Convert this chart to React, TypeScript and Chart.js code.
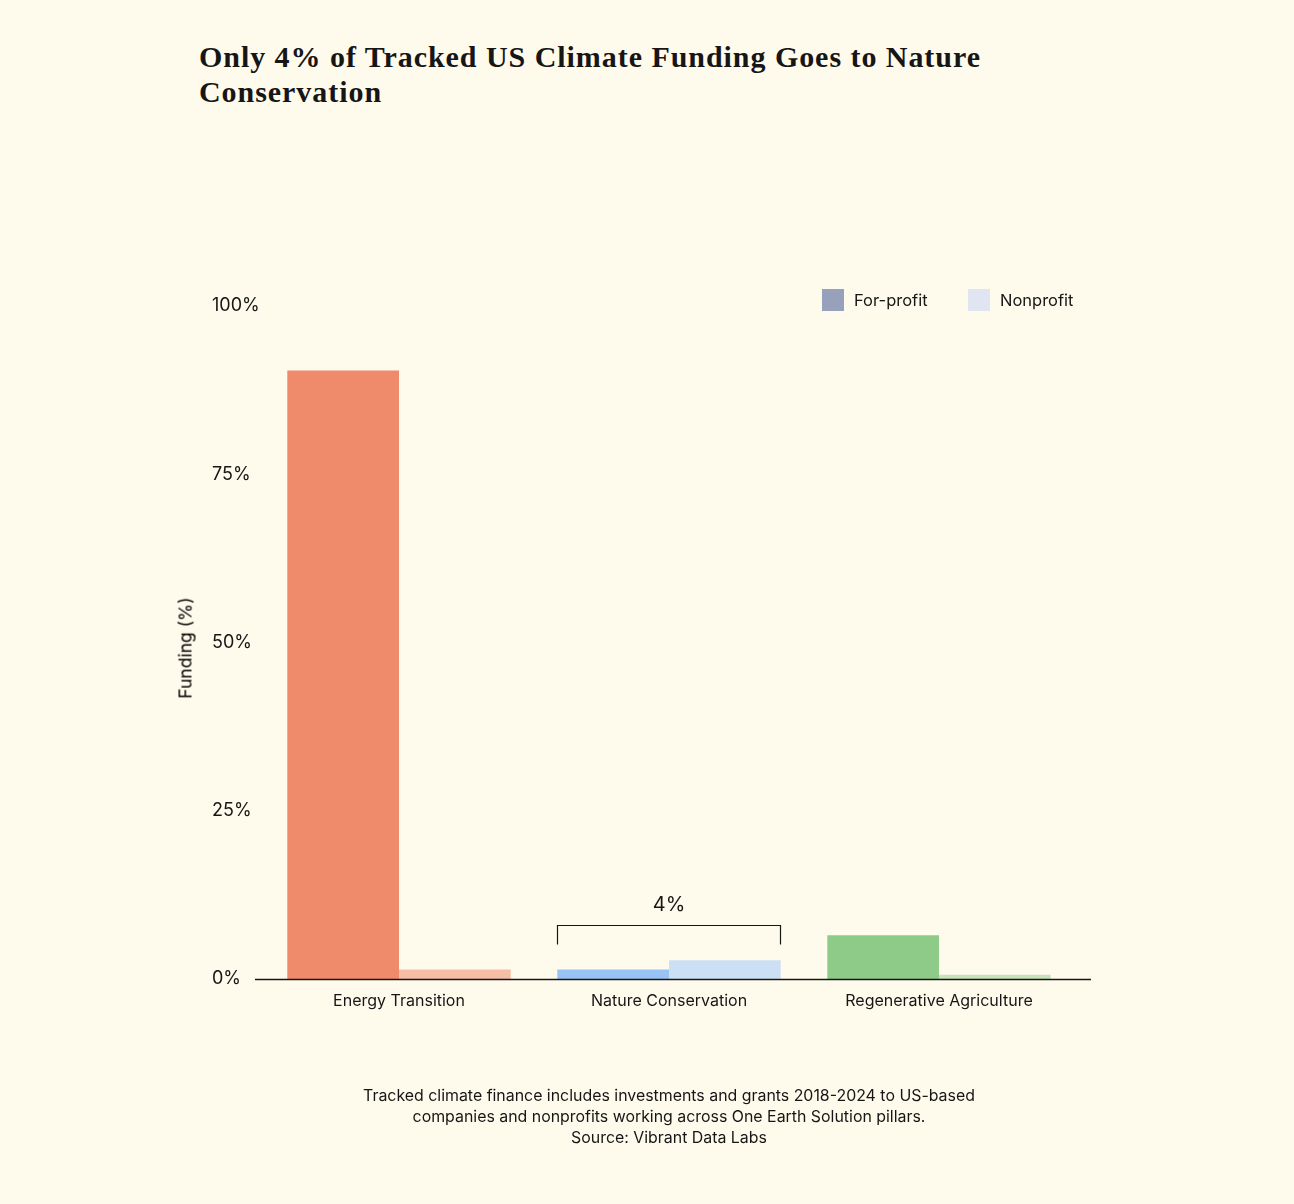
import React, { useEffect, useRef } from "react";
import { Chart, registerables } from "chart.js";

Chart.register(...registerables);

// ---- data ----
const categories = ["Energy Transition", "Nature Conservation", "Regenerative Agriculture"];
const seriesNames = ["For-profit", "Nonprofit"];
const forProfitValues = [90.4, 1.4, 6.5];
const nonprofitValues = [1.4, 2.8, 0.65];
const forProfitColors = ["#EF8A6A", "#99C3F5", "#8FCB88"];
const nonprofitColors = ["#F6BDA7", "#CCE0F5", "#C7E3BA"];
const legendColors = ["#98A1BB", "#E1E4F1"];
const yTickValues = [0, 25, 50, 75, 100];
const bracketCategoryIndex = 1;
const bracketLabel = "4%";

const TITLE_LINES = ["Only 4% of Tracked US Climate Funding Goes to Nature", "Conservation"];
const FOOTER_LINES = [
  "Tracked climate finance includes investments and grants 2018-2024 to US-based",
  "companies and nonprofits working across One Earth Solution pillars.",
  "Source: Vibrant Data Labs",
];

const BG = "#FFFBEC";
const INK = "#161616";
const SANS = "Inter, 'Noto Sans', sans-serif";

const overlayPlugin = {
  id: "overlay",
  afterDatasetsDraw(chart: any) {
    const { ctx, chartArea, scales } = chart;
    const y = scales.y;
    ctx.save();
    // baseline axis line
    const y0 = Math.round(y.getPixelForValue(0)) + 0.5;
    ctx.strokeStyle = INK;
    ctx.lineWidth = 1.5;
    ctx.beginPath();
    ctx.moveTo(chartArea.left - 9, y0);
    ctx.lineTo(chartArea.right + 17, y0);
    ctx.stroke();

    // bracket over Nature Conservation
    const b0 = chart.getDatasetMeta(0).data[bracketCategoryIndex] as any;
    const b1 = chart.getDatasetMeta(1).data[bracketCategoryIndex] as any;
    const left = Math.round(b0.x - b0.width / 2) + 0.5;
    const right = Math.round(b1.x + b1.width / 2) - 0.5;
    const topBar = Math.min(b0.y, b1.y);
    const yTop = Math.round(topBar - 35) + 0.5;
    const yBot = yTop + 19;
    ctx.lineWidth = 1.2;
    ctx.beginPath();
    ctx.moveTo(left, yBot);
    ctx.lineTo(left, yTop);
    ctx.lineTo(right, yTop);
    ctx.lineTo(right, yBot);
    ctx.stroke();
    ctx.fillStyle = INK;
    ctx.font = `20px ${SANS}`;
    ctx.textAlign = "center";
    ctx.textBaseline = "middle";
    ctx.fillText(bracketLabel, (left + right) / 2, yTop - 21);
    ctx.restore();
  },
};

function ChartCanvas() {
  const ref = useRef<HTMLCanvasElement | null>(null);
  useEffect(() => {
    if (!ref.current) return;
    Chart.defaults.font.family = SANS;
    const chart = new Chart(ref.current, {
      type: "bar",
      data: {
        labels: categories,
        datasets: [
          {
            label: seriesNames[0],
            data: forProfitValues,
            backgroundColor: forProfitColors,
            borderWidth: 0,
            categoryPercentage: 0.8274,
            barPercentage: 1,
          },
          {
            label: seriesNames[1],
            data: nonprofitValues,
            backgroundColor: nonprofitColors,
            borderWidth: 0,
            categoryPercentage: 0.8274,
            barPercentage: 1,
          },
        ],
      },
      options: {
        animation: false,
        responsive: false,
        maintainAspectRatio: false,
        layout: { padding: { left: 212, right: 220, top: 306, bottom: 185 } },
        plugins: {
          legend: { display: false },
          title: { display: false },
          tooltip: { enabled: false },
        },
        scales: {
          x: {
            grid: { display: false, drawTicks: false },
            border: { display: false },
            ticks: { color: INK, font: { size: 16, family: SANS }, padding: 13, maxRotation: 0 },
            afterFit: (s: any) => {
              s.height = 40;
            },
          },
          y: {
            min: 0,
            max: 100,
            grid: { display: false, drawTicks: false },
            border: { display: false },
            afterBuildTicks: (s: any) => {
              s.ticks = yTickValues.map((v) => ({ value: v }));
            },
            ticks: {
              color: INK,
              font: { size: 18, family: SANS },
              crossAlign: "far",
              padding: 0,
              callback: (v: any) => `${v}%`,
            },
            afterFit: (s: any) => {
              s.width = 52;
            },
          },
        },
      },
      plugins: [overlayPlugin],
    });
    return () => chart.destroy();
  }, []);
  return (
    <canvas
      ref={ref}
      width={1294}
      height={1204}
      style={{ position: "absolute", left: 0, top: 0, width: 1294, height: 1204 }}
    />
  );
}

export default function App() {
  return (
    <div
      style={{
        position: "absolute",
        left: 0,
        top: 0,
        width: 1294,
        height: 1204,
        background: BG,
        overflow: "hidden",
        color: INK,
        fontFamily: SANS,
      }}
    >
      <div
        style={{
          position: "absolute",
          left: 199,
          top: 39,
          fontFamily: "'Liberation Serif', serif",
          fontWeight: 700,
          fontSize: 30,
          letterSpacing: "0.95px",
          lineHeight: "35px",
          whiteSpace: "nowrap",
        }}
      >
        {TITLE_LINES.map((l, i) => (
          <div key={i}>{l}</div>
        ))}
      </div>

      <ChartCanvas />

      {/* legend */}
      {seriesNames.map((name, i) => (
        <div
          key={name}
          style={{
            position: "absolute",
            left: i === 0 ? 822 : 968,
            top: 289,
            height: 22,
            display: "flex",
            alignItems: "center",
            whiteSpace: "nowrap",
            fontSize: 16.5,
          }}
        >
          <span style={{ display: "inline-block", width: 22, height: 22, background: legendColors[i], marginRight: 10 }} />
          <span>{name}</span>
        </div>
      ))}

      {/* y axis title */}
      <div
        style={{
          position: "absolute",
          left: 185,
          top: 648,
          transform: "translate(-50%, -50%) rotate(-90deg)",
          whiteSpace: "nowrap",
          fontSize: 17.5,
          color: "#000",
        }}
      >
        Funding (%)
      </div>

      {/* footer */}
      <div
        style={{
          position: "absolute",
          left: 269,
          width: 800,
          top: 1085,
          textAlign: "center",
          fontSize: 15.9,
          lineHeight: "21px",
        }}
      >
        {FOOTER_LINES.map((l, i) => (
          <div key={i}>{l}</div>
        ))}
      </div>
    </div>
  );
}
